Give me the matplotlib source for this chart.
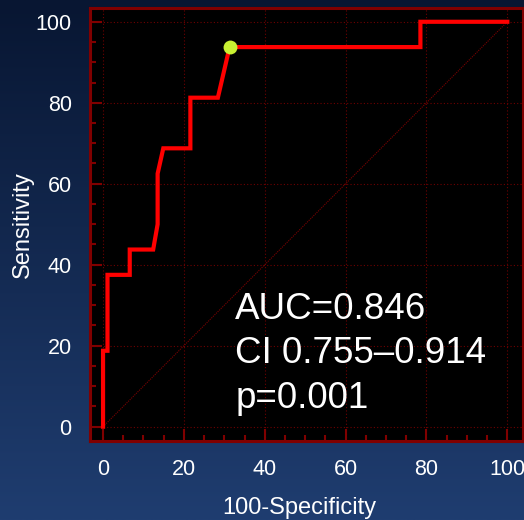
import numpy as np
import matplotlib
matplotlib.use("Agg")
import matplotlib.pyplot as plt
from matplotlib.colors import LinearSegmentedColormap
from matplotlib.ticker import MultipleLocator

plt.rcParams['font.family'] = ['Liberation Sans', 'DejaVu Sans']

# ROC curve data (100-Specificity, Sensitivity)
fpr = [0, 0, 1.1, 1.1, 6.6, 6.6, 12.4, 13.5, 13.5, 14.9, 21.6, 21.6, 28.4, 31.3, 78.5, 78.5, 100]
tpr = [0, 18.75, 18.75, 37.5, 37.5, 43.75, 43.75, 50, 62.5, 68.75, 68.75, 81.25, 81.25, 93.75, 93.75, 100, 100]
cut_x = [31.3]
cut_y = [93.75]
ref_line = [0, 100]
ticks = [0, 20, 40, 60, 80, 100]
stats_lines = ["AUC=0.846", "CI 0.755\u20130.914", "p=0.001"]
xlabel = "100-Specificity"
ylabel = "Sensitivity"

dark_red = "#800000"
grid_red = "#6e0000"

fig = plt.figure(figsize=(5.24, 5.2), dpi=100)

# gradient background
bg = fig.add_axes([0, 0, 1, 1], zorder=-10)
cmap = LinearSegmentedColormap.from_list("bg", ["#081632", "#1f3d70"])
grad = np.linspace(0, 1, 256).reshape(-1, 1)
bg.imshow(grad, aspect='auto', cmap=cmap, extent=[0, 1, 0, 1], origin='upper')
bg.axis('off')

ax = fig.add_axes([0.1712, 0.1525, 0.9975 - 0.1712, 0.9846 - 0.1525])
ax.set_facecolor("black")
ax.set_xlim(-3.3, 103.8)
ax.set_ylim(-3.46, 103.4)

ax.grid(True, which='major', color=grid_red, linestyle=(0, (1, 2)), linewidth=0.8)
ax.set_axisbelow(True)

ax.plot(ref_line, ref_line, color="#7a0000", linestyle=(0, (1, 1)), linewidth=0.8, zorder=2)
ax.plot(fpr, tpr, color="#ff0000", linewidth=3, solid_joinstyle='miter', zorder=3)
ax.plot(cut_x, cut_y, 'o', color="#c8f032", markersize=10, markeredgewidth=0, zorder=4)

ax.set_xticks(ticks)
ax.set_yticks(ticks)
ax.xaxis.set_minor_locator(MultipleLocator(5))
ax.yaxis.set_minor_locator(MultipleLocator(5))
ax.tick_params(which='major', direction='in', length=8.6, width=1.5, color=dark_red,
               labelcolor='white', labelsize=15.5)
ax.tick_params(which='minor', direction='in', length=4.5, width=1.5, color=dark_red)
ax.tick_params(axis='y', which='major', pad=13)
ax.tick_params(axis='x', which='major', pad=13)

for s in ax.spines.values():
    s.set_color(dark_red)
    s.set_linewidth(2.2)

ax.set_xlabel(xlabel, color='white', fontsize=17)
ax.xaxis.set_label_coords(0.483, -0.131)
ax.set_ylabel(ylabel, color='white', fontsize=17, labelpad=1)

baselines = [26.6, 15.7, 4.6]
for txt, yb in zip(stats_lines, baselines):
    ax.text(32.7, yb, txt, color='white', fontsize=26.5, ha='left', va='baseline', zorder=5)

fig.savefig("out.png", dpi=100, facecolor=fig.get_facecolor())
